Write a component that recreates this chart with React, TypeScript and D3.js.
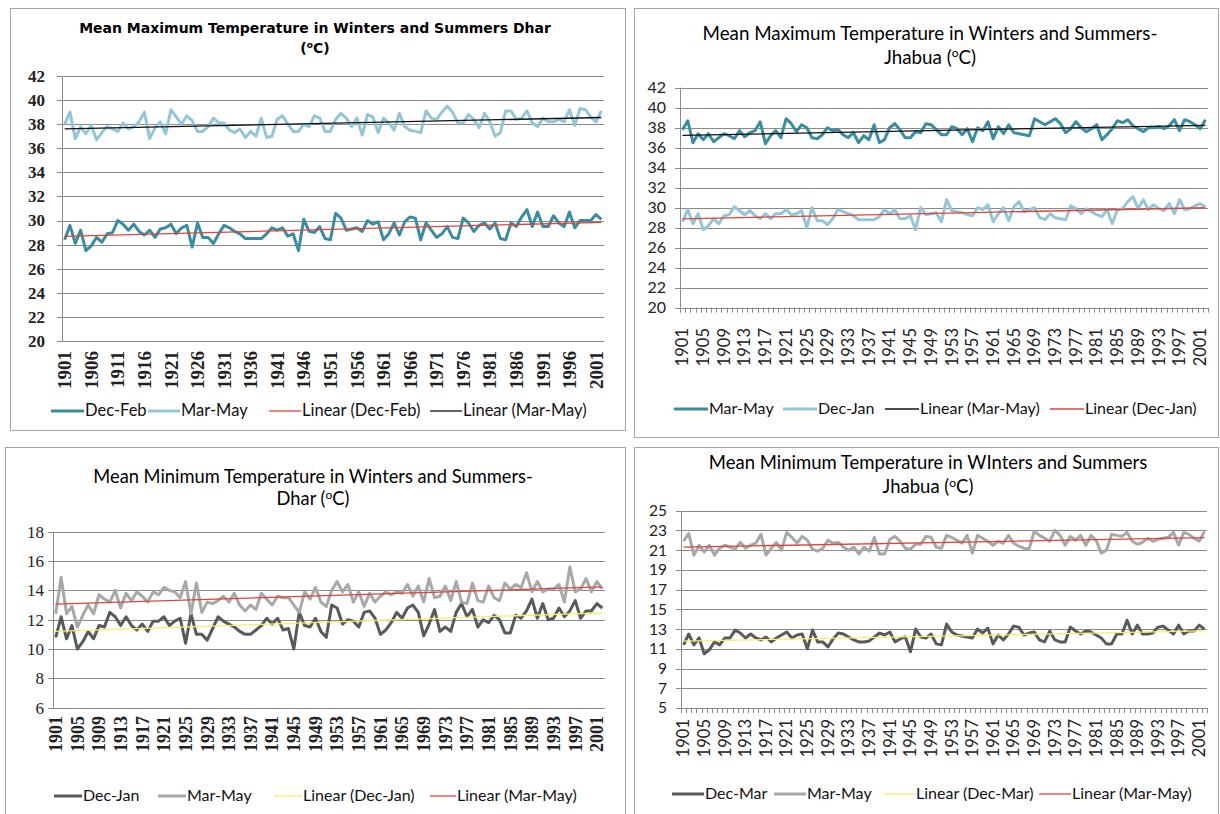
import React from 'react';
import * as d3 from 'd3';

// ---------- categories ----------
const years: number[] = d3.range(1901, 2003);
const yearLabelsEvery5 = [1901, 1906, 1911, 1916, 1921, 1926, 1931, 1936, 1941, 1946, 1951, 1956, 1961, 1966, 1971, 1976, 1981, 1986, 1991, 1996, 2001];
const yearLabelsEvery4 = [1901, 1905, 1909, 1913, 1917, 1921, 1925, 1929, 1933, 1937, 1941, 1945, 1949, 1953, 1957, 1961, 1965, 1969, 1973, 1977, 1981, 1985, 1989, 1993, 1997, 2001];

// ---------- series values ----------
const dharMaxDecFeb = [
  28.4, 29.6, 28.1, 29.2, 27.5, 27.9, 28.6, 28.2, 28.9, 29.0,
  30.0, 29.7, 29.2, 29.7, 29.1, 28.8, 29.2, 28.6, 29.3, 29.4,
  29.7, 28.9, 29.4, 29.6, 27.8, 29.8, 28.6, 28.6, 28.1, 28.9,
  29.6, 29.4, 29.1, 28.9, 28.5, 28.5, 28.5, 28.5, 28.9, 29.4,
  29.2, 29.4, 28.7, 28.9, 27.5, 30.1, 29.1, 29.0, 29.5, 28.5,
  28.4, 30.6, 30.2, 29.2, 29.3, 29.4, 29.1, 30.0, 29.7, 29.9,
  28.4, 28.9, 29.8, 28.8, 29.9, 30.3, 30.2, 28.4, 29.8, 29.2,
  28.6, 28.9, 29.5, 28.6, 28.5, 30.2, 29.8, 29.1, 29.6, 29.8,
  29.3, 29.8, 28.5, 28.4, 29.8, 29.5, 30.3, 30.9, 29.5, 30.7,
  29.5, 29.5, 30.4, 29.8, 29.5, 30.7, 29.4, 30.0, 30.0, 30.0,
  30.5, 30.1];
const dharMaxMarMay = [
  38.0, 39.0, 36.8, 37.8, 37.2, 37.9, 36.7, 37.3, 37.8, 37.6,
  37.4, 38.1, 37.6, 37.8, 38.2, 39.0, 36.8, 37.7, 38.2, 37.2,
  39.2, 38.6, 38.0, 38.7, 38.3, 37.4, 37.4, 37.8, 38.5, 38.1,
  38.1, 37.5, 37.3, 37.6, 36.9, 37.4, 37.0, 38.5, 36.9, 37.0,
  38.4, 38.7, 38.0, 37.4, 37.4, 38.0, 37.8, 38.7, 38.5, 37.4,
  37.4, 38.4, 38.9, 38.5, 37.8, 38.5, 37.1, 38.8, 38.6, 37.3,
  38.5, 38.1, 37.5, 38.9, 37.8, 37.5, 37.4, 37.3, 39.1, 38.5,
  38.4, 39.0, 39.5, 39.0, 38.1, 38.1, 38.8, 38.4, 37.7, 38.9,
  38.2, 37.0, 37.3, 39.1, 39.1, 38.4, 38.5, 39.1, 38.1, 37.8,
  38.5, 38.2, 38.2, 38.4, 38.2, 39.2, 37.9, 39.3, 39.2, 38.6,
  38.2, 39.1];

const jhabuaMaxMarMay = [
  37.8, 38.7, 36.5, 37.4, 36.8, 37.4, 36.6, 37.0, 37.4, 37.2,
  36.9, 37.7, 37.1, 37.5, 37.7, 38.6, 36.4, 37.2, 37.7, 37.0,
  38.9, 38.4, 37.6, 38.3, 38.0, 37.0, 36.9, 37.3, 38.0, 37.7,
  37.8, 37.3, 37.0, 37.5, 36.5, 37.2, 36.8, 38.3, 36.5, 36.8,
  38.0, 38.4, 37.8, 37.0, 37.0, 37.6, 37.5, 38.4, 38.3, 37.8,
  37.3, 37.3, 38.1, 37.9, 37.3, 37.9, 36.6, 38.0, 37.7, 38.6,
  36.9, 38.1, 37.4, 38.3, 37.5, 37.4, 37.3, 37.2, 38.9, 38.6,
  38.3, 38.6, 38.9, 38.4, 37.5, 37.9, 38.6, 38.0, 37.6, 37.9,
  38.3, 36.8, 37.3, 37.9, 38.7, 38.5, 38.8, 38.2, 37.9, 37.6,
  38.0, 38.0, 38.1, 37.9, 38.2, 38.8, 37.7, 38.8, 38.6, 38.3,
  37.9, 38.8];
const jhabuaMaxDecJan = [
  28.6, 29.8, 28.4, 29.4, 27.8, 28.2, 28.9, 28.4, 29.2, 29.3,
  30.1, 29.7, 29.3, 29.7, 29.2, 28.9, 29.4, 28.9, 29.4, 29.4,
  29.8, 29.3, 29.4, 29.7, 28.0, 30.0, 28.7, 28.7, 28.3, 28.9,
  29.8, 29.6, 29.4, 29.2, 28.8, 28.8, 28.8, 28.8, 29.1, 29.8,
  29.4, 29.8, 28.9, 28.9, 29.2, 27.8, 30.0, 29.3, 29.4, 29.5,
  28.6, 30.8, 29.7, 29.6, 29.5, 29.3, 29.2, 30.0, 29.8, 30.3,
  28.6, 29.4, 30.0, 28.7, 30.1, 30.6, 29.6, 29.8, 30.0, 29.0,
  28.8, 29.4, 29.0, 28.9, 28.8, 30.2, 29.9, 29.4, 29.9, 29.6,
  29.3, 29.1, 29.8, 28.4, 29.8, 29.9, 30.6, 31.1, 29.9, 30.8,
  29.8, 30.3, 29.9, 29.7, 30.4, 29.4, 30.8, 29.8, 29.9, 30.2,
  30.4, 30.1];

const dharMinDecJan = [
  10.8, 12.2, 10.7, 11.6, 10.0, 10.5, 11.2, 10.7, 11.6, 11.5,
  12.5, 12.2, 11.6, 12.2, 11.6, 11.3, 11.7, 11.2, 11.9, 11.9,
  12.2, 11.6, 11.9, 12.1, 10.4, 12.4, 11.0, 11.0, 10.6, 11.4,
  12.2, 11.9, 11.7, 11.5, 11.2, 11.0, 11.0, 11.3, 11.6, 12.1,
  11.7, 12.1, 11.3, 11.4, 10.0, 12.5, 11.6, 11.5, 12.1, 11.2,
  10.8, 13.0, 12.8, 11.7, 12.0, 11.9, 11.5, 12.5, 12.6, 12.1,
  11.0, 11.3, 11.8, 12.5, 12.1, 12.8, 13.0, 12.5, 10.9, 11.7,
  12.7, 11.2, 11.5, 11.2, 12.5, 13.1, 12.2, 12.7, 11.5, 12.0,
  11.8, 12.3, 12.0, 11.1, 11.1, 12.3, 12.1, 12.6, 13.4, 12.1,
  13.1, 12.0, 12.1, 12.8, 12.2, 12.6, 13.3, 12.1, 12.6, 12.6,
  13.1, 12.8];
const dharMinMarMay = [
  12.4, 14.9, 12.4, 12.9, 11.5, 12.3, 13.0, 12.4, 13.7, 13.4,
  13.2, 14.0, 12.8, 13.8, 13.3, 13.9, 13.6, 13.2, 13.9, 13.7,
  14.2, 14.0, 13.9, 13.5, 14.6, 12.4, 14.5, 12.5, 13.2, 13.1,
  13.3, 13.6, 13.2, 13.8, 13.0, 12.6, 13.0, 12.7, 13.8, 13.4,
  13.0, 13.6, 13.5, 13.5, 13.0, 12.5, 13.9, 13.4, 14.2, 13.2,
  12.9, 14.0, 14.6, 13.9, 14.4, 13.2, 13.9, 12.9, 13.8, 13.2,
  13.6, 13.9, 13.7, 13.9, 13.8, 14.4, 13.6, 14.3, 13.2, 14.8,
  13.5, 13.6, 14.3, 13.3, 14.6, 13.2, 13.1, 14.5, 13.3, 13.2,
  14.3, 13.5, 13.3, 14.5, 14.1, 14.4, 14.2, 15.2, 13.9, 14.6,
  13.9, 14.1, 14.1, 14.4, 13.2, 15.6, 13.9, 14.1, 14.8, 13.9,
  14.6, 14.1];

const jhabuaMinDecMar = [
  11.4, 12.5, 11.4, 12.1, 10.5, 10.9, 11.7, 11.4, 12.1, 12.1,
  12.9, 12.6, 12.1, 12.5, 12.1, 11.9, 12.2, 11.7, 12.1, 12.4,
  12.7, 12.1, 12.4, 12.5, 11.0, 12.9, 11.7, 11.7, 11.2, 12.0,
  12.6, 12.5, 12.2, 11.9, 11.7, 11.7, 11.8, 12.2, 12.6, 12.4,
  12.7, 11.7, 12.0, 12.2, 10.7, 13.0, 12.2, 12.1, 12.5, 11.5,
  11.4, 13.5, 12.7, 12.4, 12.3, 12.2, 12.1, 13.0, 12.6, 13.1,
  11.5, 12.4, 11.9, 12.5, 13.3, 13.2, 12.4, 12.6, 12.7, 11.9,
  11.7, 12.8, 11.9, 11.7, 11.7, 13.2, 12.8, 12.5, 12.8, 12.7,
  12.4, 12.1, 11.5, 11.5, 12.5, 12.5, 13.9, 12.5, 13.4, 12.5,
  12.5, 12.6, 13.2, 13.3, 12.9, 12.5, 13.4, 12.5, 12.8, 12.8,
  13.4, 13.0];
const jhabuaMinMarMay = [
  21.9, 22.7, 20.5, 21.5, 20.8, 21.5, 20.5, 21.2, 21.5, 21.3,
  21.1, 21.8, 21.2, 21.5, 21.7, 22.6, 20.5, 21.2, 21.8, 21.0,
  22.8, 22.3, 21.7, 22.4, 22.0, 21.1, 20.9, 21.2, 22.0, 21.7,
  21.8, 21.3, 21.0, 21.3, 20.6, 21.3, 20.9, 22.3, 20.6, 20.6,
  22.1, 22.4, 21.9, 21.2, 21.1, 21.6, 21.6, 22.4, 22.3, 21.3,
  21.2, 22.5, 22.3, 22.0, 21.7, 22.5, 20.7, 22.5, 22.2, 21.9,
  21.5, 21.9, 21.7, 22.5, 21.7, 21.4, 21.2, 21.1, 22.9, 22.5,
  22.2, 21.9, 23.0, 22.5, 21.5, 22.4, 22.0, 22.5, 21.5, 22.5,
  22.0, 20.7, 21.0, 22.6, 22.5, 22.4, 22.8, 21.9, 21.6, 21.8,
  22.2, 21.9, 22.1, 22.2, 22.3, 22.8, 21.5, 22.8, 22.6, 22.2,
  21.9, 22.9];

// ---------- styles ----------
const SANS = "Lato, 'Open Sans', sans-serif";
const SERIF = "'Liberation Serif', 'Times New Roman', serif";
const VERDANA = "'DejaVu Sans', Verdana, sans-serif";
const DARK_TEAL = '#3a8ca0';
const LIGHT_TEAL = '#93c6d6';
const DARK_GRAY = '#595959';
const LIGHT_GRAY = '#a8a8a8';
const RED = '#e0443c';
const BLACK = '#111111';
const YELLOW = '#f4ee6a';
const GRID = '#8a8a8a';
const BORDER = '#a6a6a6';

type Font = { family: string; size: number; weight?: string };
type SeriesCfg = { name: string; values: number[]; color: string };
type TrendCfg = { name: string; of: number; color: string };
type LegendItem = { kind: 'series' | 'trend'; idx: number; x0: number; x1: number };
type PanelCfg = {
  box: { x: number; y: number; w: number; h: number };
  plot: { l: number; r: number; t: number; b: number };
  yDomain: [number, number];
  yStep: number;
  yearLabels: number[];
  title: { lines: [string, string]; x: number; y: [number, number]; font: Font; supSize: number };
  tickFont: Font;
  yearFont: Font;
  yLabelX: number;
  yearTop: number;
  catTicks: boolean;
  legendY: number;
  legendFont: Font;
  legend: LegendItem[];
  series: SeriesCfg[];
  trends: TrendCfg[];
};

const panels: PanelCfg[] = [
  {
    box: { x: 10, y: 8, w: 615, h: 422 },
    plot: { l: 62, r: 604, t: 76, b: 341 },
    yDomain: [20, 42],
    yStep: 2,
    yearLabels: yearLabelsEvery5,
    title: { lines: ['Mean Maximum Temperature in Winters and Summers Dhar', '('], x: 315, y: [33, 53], font: { family: VERDANA, size: 14, weight: 'bold' }, supSize: 9 },
    tickFont: { family: SERIF, size: 17, weight: 'bold' },
    yearFont: { family: SERIF, size: 19, weight: 'bold' },
    yLabelX: 45,
    yearTop: 351,
    catTicks: false,
    legendY: 416,
    legendFont: { family: SANS, size: 16.5 },
    legend: [
      { kind: 'series', idx: 0, x0: 51, x1: 84 },
      { kind: 'series', idx: 1, x0: 148, x1: 180 },
      { kind: 'trend', idx: 0, x0: 269, x1: 301 },
      { kind: 'trend', idx: 1, x0: 430, x1: 462 },
    ],
    series: [
      { name: 'Dec-Feb', values: dharMaxDecFeb, color: DARK_TEAL },
      { name: 'Mar-May', values: dharMaxMarMay, color: LIGHT_TEAL },
    ],
    trends: [
      { name: 'Linear (Dec-Feb)', of: 0, color: RED },
      { name: 'Linear (Mar-May)', of: 1, color: BLACK },
    ],
  },
  {
    box: { x: 634, y: 8, w: 584, h: 429 },
    plot: { l: 680, r: 1208, t: 87.7, b: 307.7 },
    yDomain: [20, 42],
    yStep: 2,
    yearLabels: yearLabelsEvery4,
    title: { lines: ['Mean Maximum Temperature in Winters and Summers-', 'Jhabua ('], x: 930, y: [40, 64], font: { family: SANS, size: 18.8 }, supSize: 12 },
    tickFont: { family: SANS, size: 16 },
    yearFont: { family: SANS, size: 16.5 },
    yLabelX: 666,
    yearTop: 328,
    catTicks: true,
    legendY: 414,
    legendFont: { family: SANS, size: 16 },
    legend: [
      { kind: 'series', idx: 0, x0: 674, x1: 708 },
      { kind: 'series', idx: 1, x0: 783, x1: 817 },
      { kind: 'trend', idx: 0, x0: 885, x1: 919 },
      { kind: 'trend', idx: 1, x0: 1050, x1: 1084 },
    ],
    series: [
      { name: 'Mar-May', values: jhabuaMaxMarMay, color: DARK_TEAL },
      { name: 'Dec-Jan', values: jhabuaMaxDecJan, color: LIGHT_TEAL },
    ],
    trends: [
      { name: 'Linear (Mar-May)', of: 0, color: BLACK },
      { name: 'Linear (Dec-Jan)', of: 1, color: RED },
    ],
  },
  {
    box: { x: 5, y: 447, w: 620, h: 370 },
    plot: { l: 53, r: 605, t: 531.7, b: 707.7 },
    yDomain: [6, 18],
    yStep: 2,
    yearLabels: yearLabelsEvery4,
    title: { lines: ['Mean Minimum Temperature in Winters and Summers-', 'Dhar ('], x: 313, y: [483, 505], font: { family: SANS, size: 18.3 }, supSize: 12 },
    tickFont: { family: SERIF, size: 17 },
    yearFont: { family: SERIF, size: 18, weight: 'bold' },
    yLabelX: 44,
    yearTop: 716,
    catTicks: false,
    legendY: 801,
    legendFont: { family: SANS, size: 16 },
    legend: [
      { kind: 'series', idx: 0, x0: 54, x1: 82 },
      { kind: 'series', idx: 1, x0: 158, x1: 186 },
      { kind: 'trend', idx: 0, x0: 274, x1: 302 },
      { kind: 'trend', idx: 1, x0: 430, x1: 456 },
    ],
    series: [
      { name: 'Dec-Jan', values: dharMinDecJan, color: DARK_GRAY },
      { name: 'Mar-May', values: dharMinMarMay, color: LIGHT_GRAY },
    ],
    trends: [
      { name: 'Linear (Dec-Jan)', of: 0, color: YELLOW },
      { name: 'Linear (Mar-May)', of: 1, color: RED },
    ],
  },
  {
    box: { x: 634, y: 447, w: 584, h: 370 },
    plot: { l: 681, r: 1207, t: 510.7, b: 708 },
    yDomain: [5, 25],
    yStep: 2,
    yearLabels: yearLabelsEvery4,
    title: { lines: ['Mean Minimum Temperature in WInters and Summers', 'Jhabua ('], x: 928, y: [469, 493], font: { family: SANS, size: 18.5 }, supSize: 12 },
    tickFont: { family: SANS, size: 15.5 },
    yearFont: { family: SANS, size: 16.5 },
    yLabelX: 667,
    yearTop: 719,
    catTicks: true,
    legendY: 799,
    legendFont: { family: SANS, size: 16 },
    legend: [
      { kind: 'series', idx: 0, x0: 672, x1: 704 },
      { kind: 'series', idx: 1, x0: 774, x1: 806 },
      { kind: 'trend', idx: 0, x0: 883, x1: 915 },
      { kind: 'trend', idx: 1, x0: 1039, x1: 1071 },
    ],
    series: [
      { name: 'Dec-Mar', values: jhabuaMinDecMar, color: DARK_GRAY },
      { name: 'Mar-May', values: jhabuaMinMarMay, color: LIGHT_GRAY },
    ],
    trends: [
      { name: 'Linear (Dec-Mar)', of: 0, color: YELLOW },
      { name: 'Linear (Mar-May)', of: 1, color: RED },
    ],
  },
];

function linearFit(values: number[]) {
  const n = values.length;
  const mx = d3.mean(d3.range(n)) as number;
  const my = d3.mean(values) as number;
  let sxy = 0, sxx = 0;
  values.forEach((v, i) => { sxy += (i - mx) * (v - my); sxx += (i - mx) * (i - mx); });
  const slope = sxy / sxx;
  return { slope, intercept: my - slope * mx };
}

function Panel({ cfg }: { cfg: PanelCfg }) {
  const { plot } = cfg;
  const x = d3.scaleBand<number>().domain(years).range([plot.l, plot.r]);
  const cx = (yr: number) => (x(yr) as number) + x.bandwidth() / 2;
  const y = d3.scaleLinear().domain(cfg.yDomain).range([plot.b, plot.t]);
  const yTicks = d3.range(cfg.yDomain[0], cfg.yDomain[1] + 0.001, cfg.yStep);
  const line = d3.line<number>().x((_, i) => cx(years[i])).y((d) => y(d));
  const fontProps = (f: Font) => ({ fontFamily: f.family, fontSize: f.size, fontWeight: f.weight || 'normal' });
  const t = cfg.title;

  return (
    <g>
      <rect x={cfg.box.x + 0.5} y={cfg.box.y + 0.5} width={cfg.box.w} height={cfg.box.h} fill="#fff" stroke={BORDER} strokeWidth={1} />
      {/* title */}
      <text x={t.x} y={t.y[0]} textAnchor="middle" fill="#000" {...fontProps(t.font)}>{t.lines[0]}</text>
      <text x={t.x} y={t.y[1]} textAnchor="middle" fill="#000" {...fontProps(t.font)}>
        {t.lines[1]}
        <tspan fontSize={t.supSize} dy={-t.font.size * 0.35}>o</tspan>
        <tspan dy={t.font.size * 0.35}>C)</tspan>
      </text>
      {/* gridlines + y ticks */}
      {yTicks.map((v) => (
        <g key={v}>
          <line x1={plot.l - 5} x2={plot.r} y1={Math.round(y(v)) + 0.5} y2={Math.round(y(v)) + 0.5} stroke={GRID} strokeWidth={1} />
          <text x={cfg.yLabelX} y={y(v)} dy="0.35em" textAnchor="end" fill="#222" {...fontProps(cfg.tickFont)}>{v}</text>
        </g>
      ))}
      <line x1={plot.l + 0.5} x2={plot.l + 0.5} y1={plot.t} y2={plot.b} stroke={GRID} strokeWidth={1} />
      {cfg.catTicks && years.concat([0]).map((yr, i) => {
        const xx = i < years.length ? (x(yr) as number) : plot.r;
        return <line key={'ct' + i} x1={Math.round(xx) + 0.5} x2={Math.round(xx) + 0.5} y1={plot.b} y2={plot.b + 5} stroke={GRID} strokeWidth={1} />;
      })}
      {/* year labels */}
      {cfg.yearLabels.map((yr) => (
        <text key={yr} transform={`translate(${cx(yr)},${cfg.yearTop}) rotate(-90)`} dy="0.35em" textAnchor="end" fill="#222" {...fontProps(cfg.yearFont)}>{yr}</text>
      ))}
      {/* series */}
      {cfg.series.map((s) => (
        <path key={s.name} d={line(s.values) as string} fill="none" stroke={s.color} strokeWidth={3} strokeLinejoin="round" />
      ))}
      {/* trend lines */}
      {cfg.trends.map((tr) => {
        const vals = cfg.series[tr.of].values;
        const fit = linearFit(vals);
        const n = vals.length;
        return (
          <line key={tr.name} x1={cx(years[0])} x2={cx(years[n - 1])} y1={y(fit.intercept)} y2={y(fit.intercept + fit.slope * (n - 1))} stroke={tr.color} strokeWidth={1.3} />
        );
      })}
      {/* legend */}
      {cfg.legend.map((it, k) => {
        const isS = it.kind === 'series';
        const color = isS ? cfg.series[it.idx].color : cfg.trends[it.idx].color;
        const name = isS ? cfg.series[it.idx].name : cfg.trends[it.idx].name;
        return (
          <g key={'lg' + k}>
            <line x1={it.x0} x2={it.x1} y1={cfg.legendY - 5} y2={cfg.legendY - 5} stroke={color} strokeWidth={isS ? 3 : 1.3} />
            <text x={it.x1 + 1} y={cfg.legendY} fill="#111" {...fontProps(cfg.legendFont)}>{name}</text>
          </g>
        );
      })}
    </g>
  );
}

export default function App() {
  return (
    <svg width={1220} height={814} style={{ position: 'absolute', left: 0, top: 0, background: '#fff' }}>
      <rect x={0} y={0} width={1220} height={814} fill="#fff" />
      {panels.map((p, i) => <Panel key={i} cfg={p} />)}
    </svg>
  );
}
